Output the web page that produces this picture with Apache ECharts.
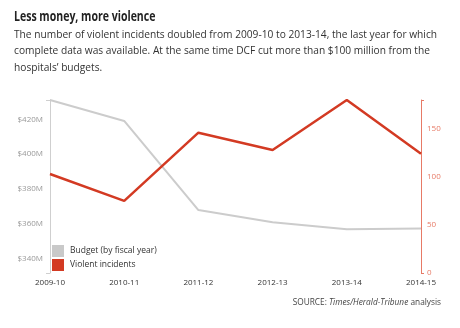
<!DOCTYPE html>
<html>
<head>
<meta charset="utf-8">
<style>
  html, body { margin: 0; padding: 0; background: #fff; }
  #chart { width: 460px; height: 328px; }
</style>
<script src="https://cdn.jsdelivr.net/npm/echarts@6/dist/echarts.min.js"></script>
</head>
<body>
<div id="chart"></div>
<script>
// Fiscal years on the x axis
const years = ['2009-10', '2010-11', '2011-12', '2012-13', '2013-14', '2014-15'];
// Hospital budget, millions of dollars
const budget = [431, 419, 368, 361, 357, 357.5];
// Violent incidents per year
const incidents = [103, 75, 146, 128, 180, 124];
// Labelled ticks on each value axis
const budgetTicks = [340, 360, 380, 400, 420];
const incidentTicks = [0, 50, 100, 150];

const FONT = '"Open Sans", "DejaVu Sans", sans-serif';
const GRAY = '#cccccc';
const RED = '#d33a23';
const AXIS_RED = '#e77a66';

const chart = echarts.init(document.getElementById('chart'), null, { renderer: 'canvas' });

chart.setOption({
  animation: false,
  backgroundColor: '#ffffff',
  textStyle: { fontFamily: FONT },
  graphic: [
    {
      // condensed bold headline
      type: 'text',
      left: 14, top: 10,
      scaleX: 0.78,
      style: {
        text: 'Less money, more violence',
        font: 'bold 13.5px "Open Sans", sans-serif',
        fill: '#222'
      }
    }
  ],
  title: [
    {
      text: 'The number of violent incidents doubled from 2009-10 to 2013-14, the last year for which\n' +
            'complete data was available. At the same time DCF cut more than $100 million from the\n' +
            'hospitals\u2019 budgets.',
      left: 9, top: 22,
      textStyle: { fontFamily: FONT, fontSize: 10.2, lineHeight: 16.3, color: '#333', fontWeight: 'normal' }
    },
    {
      text: '{n|SOURCE: }{i|Times/Herald-Tribune}{n| analysis}',
      right: 14, top: 294,
      textStyle: {
        fontWeight: 'normal',
        rich: {
          n: { fontFamily: FONT, fontSize: 8.3, color: '#444', fontWeight: 'normal' },
          i: { fontFamily: FONT, fontSize: 8.3, color: '#444', fontStyle: 'italic', fontWeight: 'normal' }
        }
      }
    }
  ],
  legend: {
    orient: 'vertical',
    left: 52, top: 245,
    padding: 0,
    itemWidth: 12, itemHeight: 12, itemGap: 2,
    icon: 'rect',
    textStyle: { fontFamily: FONT, fontSize: 8.5, color: '#333', padding: [0, 0, 0, 1] },
    data: [
      { name: 'Budget (by fiscal year)', itemStyle: { color: '#c9c9c9' } },
      { name: 'Violent incidents', itemStyle: { color: RED } }
    ]
  },
  grid: { left: 50, right: 39, top: 100, bottom: 55, containLabel: false },
  xAxis: {
    type: 'category',
    data: years,
    boundaryGap: false,
    axisLine: { show: false },
    axisTick: { show: false },
    axisLabel: { color: '#333', fontSize: 8, margin: 6, fontFamily: FONT }
  },
  yAxis: [
    {
      type: 'value',
      min: 332, max: 431,
      position: 'left',
      splitLine: { show: false },
      axisLine: { show: true, lineStyle: { color: '#cfcfcf', width: 1 } },
      axisTick: { show: true, length: 4, lineStyle: { color: '#cfcfcf' }, customValues: [332, 431] },
      axisLabel: { color: '#999', fontSize: 8, margin: 7, fontFamily: FONT,
                   customValues: budgetTicks, formatter: v => '$' + v + 'M' }
    },
    {
      type: 'value',
      min: 0, max: 180,
      position: 'right',
      splitLine: { show: false },
      axisLine: { show: true, lineStyle: { color: AXIS_RED, width: 1 } },
      axisTick: { show: true, length: 3, inside: false, lineStyle: { color: AXIS_RED }, customValues: [0, 180] },
      axisLabel: { color: AXIS_RED, fontSize: 8, margin: 6, fontFamily: FONT,
                   customValues: incidentTicks }
    }
  ],
  series: [
    {
      name: 'Budget (by fiscal year)',
      type: 'line',
      yAxisIndex: 0,
      data: budget,
      symbol: 'none',
      lineStyle: { color: GRAY, width: 2 },
      itemStyle: { color: GRAY }
    },
    {
      name: 'Violent incidents',
      type: 'line',
      yAxisIndex: 1,
      data: incidents,
      symbol: 'none',
      lineStyle: { color: RED, width: 2.5 },
      itemStyle: { color: RED }
    }
  ]
});
</script>
</body>
</html>
